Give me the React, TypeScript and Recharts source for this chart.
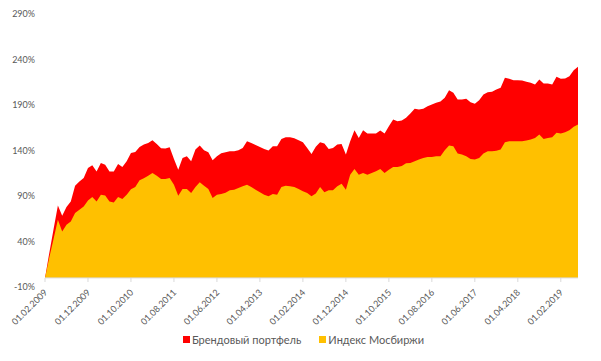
import React from "react";
import { AreaChart, Area, XAxis, YAxis, ReferenceLine } from "recharts";

const START_YEAR = 2009;
const START_MONTH = 2;
const POINT_COUNT = 125;

const dates: string[] = Array.from({ length: POINT_COUNT }, (_, i) => {
  const m = START_MONTH - 1 + i;
  const year = START_YEAR + Math.floor(m / 12);
  const month = (m % 12) + 1;
  return `01.${String(month).padStart(2, "0")}.${year}`;
});

const brandPortfolio: number[] = [
  0, 27.5, 53.6, 79.6, 68.3, 77.8, 84, 101.3, 106, 109.8,
  120.8, 123.7, 117, 126.3, 124.4, 117, 117, 125.2, 121.9, 128.1,
  137.3, 138.4, 143.9, 146.5, 148.3, 151.2, 147.2, 142.4, 142.1, 143.5,
  130.7, 118.9, 131.8, 133.6, 128.1, 141, 145.4, 140.2, 138, 129.2,
  133.6, 137, 138.2, 139.1, 139.1, 140.2, 142.8, 150.1, 148.3, 146.1,
  143.9, 141.7, 139.9, 144.6, 144.6, 152.7, 154.5, 154.5, 153.4, 151.2,
  149, 142.8, 136.2, 144.2, 149, 147.6, 141.7, 142.8, 146.5, 147.2,
  135.5, 150.1, 162.2, 153.8, 162.2, 158.6, 158.6, 158.6, 161.9, 158.6,
  166.6, 174, 172.1, 173, 176, 180.6, 185.8, 185, 185.8, 188.7,
  190.5, 192.4, 193.8, 197.9, 206.3, 203.4, 196, 196, 196.8, 193.1,
  191.3, 195.3, 201.5, 204.1, 204.6, 207, 208.9, 219.9, 218.8, 217.3,
  217.3, 217, 215.5, 214.4, 212.6, 218.1, 213.7, 213.7, 212.6, 221,
  218.8, 219.2, 221.7, 228.3, 232,
];

const moexIndex: number[] = [
  0, 22.4, 42.9, 63.9, 51, 58.4, 62, 71.3, 74.9, 78.5,
  85.1, 88.9, 84, 91.4, 90.6, 84, 82.9, 88.9, 86.7, 91.4,
  97.3, 99.9, 107.2, 109.4, 112.3, 115.3, 112.3, 108.7, 108.7, 109.8,
  102.4, 90.3, 97.7, 97.7, 93.2, 99.9, 105, 101.3, 97.7, 87.8,
  91.4, 92.3, 93.6, 96.2, 96.9, 98.8, 100.6, 102.4, 99.9, 96.9,
  94, 91.4, 89.6, 92.2, 91.4, 99.9, 101.3, 100.6, 99.9, 97.7,
  95.1, 93.2, 89.6, 92.8, 99.9, 94, 96.2, 96.2, 100.6, 103.5,
  96.9, 113.4, 119.7, 113.4, 115.3, 113.4, 115.3, 117.1, 119.7, 115.3,
  118.9, 121.9, 121.9, 122.9, 126, 126.3, 128.1, 130, 131.8, 132.9,
  132.9, 133.6, 133.6, 140.2, 145.4, 144.6, 136.6, 135.5, 133.6, 130.7,
  130, 131.8, 136.6, 139.1, 139.1, 139.6, 141, 149, 150.1, 150.1,
  150.1, 150.1, 150.9, 152, 153.8, 157.5, 152.7, 153.8, 154.5, 159.4,
  158.6, 160, 162.2, 166, 168.5,
];

const yTicks: number[] = [-10, 40, 90, 140, 190, 240, 290];

const seriesNames = ["Брендовый портфель", "Индекс Мосбиржи"];
const RED = "#FF0000";
const YELLOW = "#FFC000";
const TEXT = "#595959";
const AXIS = "#D9D9D9";
const FONT = "Lato, 'Open Sans', sans-serif";

const data = dates.map((d, i) => ({
  date: d,
  brand: brandPortfolio[i],
  moex: moexIndex[i],
}));

const XTick = (props: any) => {
  const { x, y, payload } = props;
  const axisY = y - 17;
  return (
    <g>
      <line x1={x} x2={x} y1={axisY} y2={axisY + 4} stroke={AXIS} strokeWidth={1} />
      <text
        x={x + 3}
        y={y - 2}
        textAnchor="end"
        fontSize={9}
        fontFamily={FONT}
        fill={TEXT}
        transform={`rotate(-45, ${x + 3}, ${y - 2})`}
      >
        {payload.value}
      </text>
    </g>
  );
};

export default function App() {
  return (
    <div style={{ position: "absolute", left: 0, top: 0, width: 601, height: 361, background: "#fff" }}>
      <AreaChart
        width={601}
        height={361}
        data={data}
        margin={{ top: 14, right: 23, left: 0, bottom: 0 }}
      >
        <XAxis
          dataKey="date"
          interval={9}
          axisLine={false}
          tickLine={false}
          tick={<XTick />}
          height={74}
        />
        <YAxis
          type="number"
          domain={[-10, 290]}
          ticks={yTicks}
          width={45}
          axisLine={false}
          tickLine={false}
          tickMargin={4}
          tickFormatter={(v: number) => `${v}%`}
          tick={{ fontSize: 9, fill: TEXT, fontFamily: FONT }}
        />
        <Area
          type="linear"
          dataKey="brand"
          name={seriesNames[0]}
          stroke="none"
          fill={RED}
          fillOpacity={1}
          isAnimationActive={false}
        />
        <Area
          type="linear"
          dataKey="moex"
          name={seriesNames[1]}
          stroke="none"
          fill={YELLOW}
          fillOpacity={1}
          isAnimationActive={false}
        />
        <ReferenceLine y={0} stroke={AXIS} strokeWidth={1} />
      </AreaChart>
      <div
        style={{
          position: "absolute",
          top: 333,
          left: 0,
          width: 607,
          display: "flex",
          justifyContent: "center",
          alignItems: "center",
          fontFamily: FONT,
          fontSize: 11,
          color: TEXT,
        }}
      >
        <span style={{ display: "inline-block", width: 7, height: 7, background: RED, marginRight: 2 }} />
        <span style={{ marginRight: 18 }}>{seriesNames[0]}</span>
        <span style={{ display: "inline-block", width: 7, height: 7, background: YELLOW, marginRight: 2 }} />
        <span>{seriesNames[1]}</span>
      </div>
    </div>
  );
}
